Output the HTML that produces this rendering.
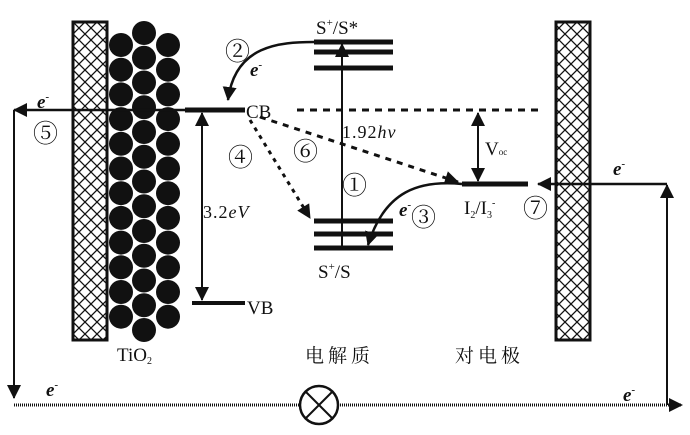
<!DOCTYPE html>
<html><head><meta charset="utf-8"><style>
html,body{margin:0;padding:0;background:#fff;}
svg{display:block}
text{font-family:"Liberation Serif","Noto Serif CJK SC",serif;fill:#111}
</style></head><body>
<svg width="690" height="435" viewBox="0 0 690 435" xmlns="http://www.w3.org/2000/svg">
<defs>
<pattern id="hx" x="73" y="22" width="12" height="12" patternUnits="userSpaceOnUse">
<path d="M0 0L12 12M12 0L0 12" stroke="#111" stroke-width="1.3"/>
</pattern>
<marker id="ah2" markerWidth="14" markerHeight="14" refX="13" refY="7" orient="auto-start-reverse" markerUnits="userSpaceOnUse">
<path d="M0 0L14 7L0 14z" fill="#111"/>
</marker>
</defs>
<rect x="73" y="22" width="34" height="318" fill="url(#hx)" stroke="#111" stroke-width="3"/>
<rect x="556" y="22" width="34" height="318" fill="url(#hx)" stroke="#111" stroke-width="3"/>
<g fill="#111">
<circle cx="121" cy="45" r="12"/><circle cx="121" cy="69.7" r="12"/><circle cx="121" cy="94.4" r="12"/><circle cx="121" cy="119.1" r="12"/><circle cx="121" cy="143.8" r="12"/><circle cx="121" cy="168.5" r="12"/><circle cx="121" cy="193.2" r="12"/><circle cx="121" cy="217.9" r="12"/><circle cx="121" cy="242.6" r="12"/><circle cx="121" cy="267.3" r="12"/><circle cx="121" cy="292" r="12"/><circle cx="121" cy="316.7" r="12"/>
<circle cx="168" cy="45" r="12"/><circle cx="168" cy="69.7" r="12"/><circle cx="168" cy="94.4" r="12"/><circle cx="168" cy="119.1" r="12"/><circle cx="168" cy="143.8" r="12"/><circle cx="168" cy="168.5" r="12"/><circle cx="168" cy="193.2" r="12"/><circle cx="168" cy="217.9" r="12"/><circle cx="168" cy="242.6" r="12"/><circle cx="168" cy="267.3" r="12"/><circle cx="168" cy="292" r="12"/><circle cx="168" cy="316.7" r="12"/>
<circle cx="144" cy="33" r="12"/><circle cx="144" cy="57.75" r="12"/><circle cx="144" cy="82.5" r="12"/><circle cx="144" cy="107.25" r="12"/><circle cx="144" cy="132" r="12"/><circle cx="144" cy="156.75" r="12"/><circle cx="144" cy="181.5" r="12"/><circle cx="144" cy="206.25" r="12"/><circle cx="144" cy="231" r="12"/><circle cx="144" cy="255.75" r="12"/><circle cx="144" cy="280.5" r="12"/><circle cx="144" cy="305.25" r="12"/><circle cx="144" cy="330" r="12"/>
</g>
<g stroke="#111" fill="none">
<line x1="185" y1="110" x2="245" y2="110" stroke-width="5"/>
<line x1="192" y1="303" x2="245" y2="303" stroke-width="4"/>
<line x1="202" y1="113" x2="202" y2="300" stroke-width="2" marker-start="url(#ah2)" marker-end="url(#ah2)"/>
<line x1="297" y1="110" x2="538" y2="110" stroke-width="3" stroke-dasharray="7 6"/>
<g stroke-width="5">
<line x1="314" y1="42" x2="393" y2="42"/><line x1="314" y1="52" x2="393" y2="52"/><line x1="314" y1="68" x2="393" y2="68"/>
<line x1="314" y1="221" x2="393" y2="221"/><line x1="314" y1="234" x2="393" y2="234"/><line x1="314" y1="248" x2="393" y2="248"/>
</g>
<line x1="342" y1="248" x2="342" y2="44" stroke-width="2" marker-end="url(#ah2)"/>
<line x1="462" y1="184" x2="528" y2="184" stroke-width="5"/>
<line x1="478" y1="113" x2="478" y2="181" stroke-width="2" marker-start="url(#ah2)" marker-end="url(#ah2)"/>
<path d="M314 42 C280 42 235 45 228 100" stroke-width="2.5" marker-end="url(#ah2)"/>
<path d="M462 184 C420 180 385 190 368 245" stroke-width="2.5" marker-end="url(#ah2)"/>
<path d="M250 120 L310 218" stroke-width="3" stroke-dasharray="4 5" marker-end="url(#ah2)"/>
<path d="M260 117 L458 182" stroke-width="3" stroke-dasharray="6 6" marker-end="url(#ah2)"/>
<line x1="185" y1="110" x2="14" y2="110" stroke-width="2.5" marker-end="url(#ah2)"/>
<line x1="14" y1="110" x2="14" y2="398" stroke-width="2" marker-end="url(#ah2)"/>
<line x1="14" y1="405" x2="300" y2="405" stroke-width="3" stroke-dasharray="1 1"/>
<line x1="338" y1="405" x2="682" y2="405" stroke-width="3" stroke-dasharray="1 1" marker-end="url(#ah2)"/>
<line x1="667" y1="405" x2="667" y2="185" stroke-width="2" marker-end="url(#ah2)"/>
<line x1="667" y1="184" x2="538" y2="184" stroke-width="2.5" marker-end="url(#ah2)"/>
<circle cx="319" cy="405" r="19" stroke-width="2.5" fill="#fff"/>
<path d="M306 392L332 418M332 392L306 418" stroke-width="2"/>
</g>
<g font-size="19">
<text x="316" y="34">S<tspan font-size="11" dy="-8">+</tspan><tspan dy="8">/S*</tspan></text>
<text x="318" y="278">S<tspan font-size="11" dy="-8">+</tspan><tspan dy="8">/S</tspan></text>
<text x="246" y="118">CB</text>
<text x="247" y="314">VB</text>
<text x="203" y="218" font-size="18" letter-spacing="1">3.2<tspan font-style="italic">eV</tspan></text>
<text x="342" y="138" font-size="18" letter-spacing="1">1.92<tspan font-style="italic">hv</tspan></text>
<text x="485" y="155">V<tspan font-size="9">oc</tspan></text>
<text x="464" y="214">I<tspan font-size="10" dy="4">2</tspan><tspan dy="-4">/I</tspan><tspan font-size="10" dy="4">3</tspan><tspan font-size="10" dy="-12">-</tspan></text>
<text x="117" y="361">TiO<tspan font-size="10" dy="3">2</tspan></text>
<text x="305" y="362" font-family="'Noto Serif CJK SC',serif" letter-spacing="4">电解质</text>
<text x="455" y="362" font-family="'Noto Serif CJK SC',serif" letter-spacing="4">对电极</text>
</g>
<g font-size="19" font-weight="bold" font-style="italic">
<text x="37" y="108">e<tspan font-size="11" dy="-8">-</tspan></text>
<text x="250" y="76">e<tspan font-size="11" dy="-8">-</tspan></text>
<text x="399" y="216">e<tspan font-size="11" dy="-8">-</tspan></text>
<text x="613" y="175">e<tspan font-size="11" dy="-8">-</tspan></text>
<text x="46" y="396">e<tspan font-size="11" dy="-8">-</tspan></text>
<text x="623" y="401">e<tspan font-size="11" dy="-8">-</tspan></text>
</g>
<g font-size="25" font-family="'DejaVu Sans',sans-serif">
<text x="225" y="60">②</text>
<text x="33" y="142">⑤</text>
<text x="228" y="166">④</text>
<text x="293" y="160">⑥</text>
<text x="342" y="194">①</text>
<text x="411" y="226">③</text>
<text x="523" y="217">⑦</text>
</g>
</svg>
</body></html>
